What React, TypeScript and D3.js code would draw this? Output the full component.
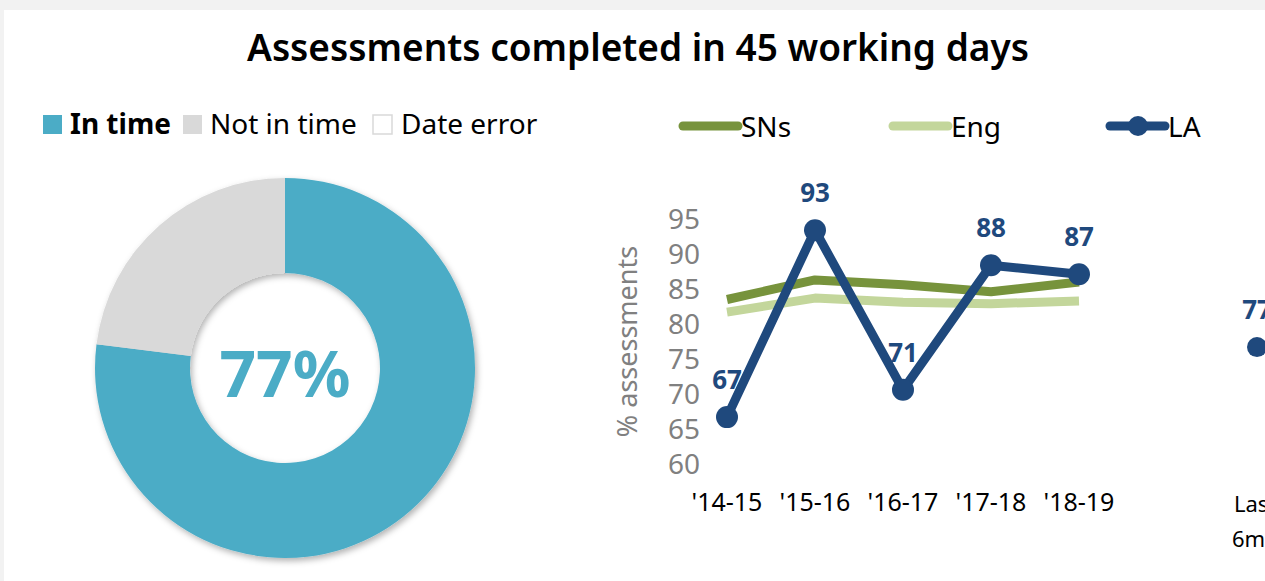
import React from 'react';
import * as d3 from 'd3';

// donut data
const statusLabels = ['In time', 'Not in time', 'Date error'];
const statusValues = [77, 23, 0];
const statusColors = ['#4BACC6', '#D9D9D9', '#FFFFFF'];

// trend data
const years = ["'14-15", "'15-16", "'16-17", "'17-18", "'18-19"];
const snsValues = [83.5, 86.3, 85.6, 84.6, 86.0];
const engValues = [81.7, 83.7, 83.1, 82.9, 83.3];
const laValues = [66.7, 93.4, 70.6, 88.4, 87.1];
const yTicks = [60, 65, 70, 75, 80, 85, 90, 95];

// cut-off panel on the right
const lastValue = 76.7;
const lastLabel = ['Last', '6mths'];

const W = 1265;
const H = 581;
const font = '"Noto Sans", "Open Sans", sans-serif';

export default function App() {
  const cx = 285;
  const cy = 368;
  const outerR = 190;
  const innerR = 95;

  const pie = d3.pie<number>().sort(null).value(d => d);
  const arcs = pie(statusValues);
  const arcGen = d3.arc<d3.PieArcDatum<number>>().innerRadius(innerR).outerRadius(outerR);

  const x = d3.scalePoint<string>().domain(years).range([727, 1079]);
  const y = d3.scaleLinear().domain([60, 95]).range([464, 219]);

  const lineGen = d3
    .line<number>()
    .x((_, i) => x(years[i]) as number)
    .y(d => y(d));

  const fmt = d3.format('.0f');

  const legendLeft = [
    { sq: 43, tx: 70 },
    { sq: 183, tx: 210 },
    { sq: 373, tx: 401 }
  ];

  const lineLegend = [
    { name: 'SNs', color: '#77933C', x0: 683, marker: false },
    { name: 'Eng', color: '#C3D69B', x0: 893, marker: false },
    { name: 'LA', color: '#1F497D', x0: 1110, marker: true }
  ];

  return (
    <svg
      width={W}
      height={H}
      style={{ position: 'absolute', left: 0, top: 0, fontFamily: font }}
    >
      <defs>
        <filter id="shadow" x="-20%" y="-20%" width="140%" height="140%">
          <feDropShadow dx="2" dy="3" stdDeviation="3" floodColor="#000" floodOpacity="0.3" />
        </filter>
      </defs>
      <rect width={W} height={H} fill="#F2F2F2" />
      <rect x={4} y={10} width={W - 4} height={H - 10} fill="#FFFFFF" />

      <text x={638} y={61} textAnchor="middle" fontSize={37} fontWeight={600} fill="#000">
        Assessments completed in 45 working days
      </text>

      {/* donut legend */}
      {statusLabels.map((lab, i) => (
        <g key={lab}>
          <rect
            x={legendLeft[i].sq}
            y={115}
            width={19}
            height={19}
            fill={statusColors[i]}
            stroke={i === 2 ? '#D9D9D9' : 'none'}
            strokeWidth={1.5}
          />
          <text
            x={legendLeft[i].tx}
            y={134}
            fontSize={28}
            fontWeight={i === 0 ? 700 : 400}
            fill="#000"
          >
            {lab}
          </text>
        </g>
      ))}

      {/* donut */}
      <g transform={`translate(${cx},${cy})`} filter="url(#shadow)">
        {arcs.map((a, i) => (
          <path key={i} d={arcGen(a) || ''} fill={statusColors[i]} />
        ))}
      </g>
      <text
        x={cx}
        y={cy + 29}
        textAnchor="middle"
        fontSize={64}
        fontWeight={700}
        fill="#4BACC6"
      >
        {statusValues[0]}%
      </text>

      {/* line legend */}
      {lineLegend.map(l => (
        <g key={l.name}>
          <line
            x1={l.x0}
            x2={l.x0 + 55}
            y1={126}
            y2={126}
            stroke={l.color}
            strokeWidth={9}
            strokeLinecap="round"
          />
          {l.marker && <circle cx={l.x0 + 28} cy={126} r={10} fill={l.color} />}
          <text x={l.x0 + 58} y={137} fontSize={28} fill="#000">
            {l.name}
          </text>
        </g>
      ))}

      {/* y axis */}
      {yTicks.map(t => (
        <text
          key={t}
          x={700}
          y={y(t)}
          dy="0.35em"
          textAnchor="end"
          fontSize={28}
          fill="#808080"
        >
          {t}
        </text>
      ))}
      <text
        transform={`translate(637,${(y(60) + y(95)) / 2}) rotate(-90)`}
        textAnchor="middle"
        fontSize={27}
        fill="#808080"
      >
        % assessments
      </text>

      {/* x labels */}
      {years.map(yr => (
        <text key={yr} x={x(yr)} y={511} textAnchor="middle" fontSize={25} fill="#000">
          {yr}
        </text>
      ))}

      {/* series */}
      <path d={lineGen(engValues) || ''} fill="none" stroke="#C3D69B" strokeWidth={9} strokeLinejoin="round" />
      <path d={lineGen(snsValues) || ''} fill="none" stroke="#77933C" strokeWidth={9} strokeLinejoin="round" />
      <path d={lineGen(laValues) || ''} fill="none" stroke="#1F497D" strokeWidth={9} strokeLinejoin="round" />
      {laValues.map((v, i) => (
        <g key={i}>
          <circle cx={x(years[i])} cy={y(v)} r={11} fill="#1F497D" />
          <text
            x={x(years[i])}
            y={y(v) - 28}
            textAnchor="middle"
            fontSize={26}
            fontWeight={700}
            fill="#1F497D"
          >
            {fmt(v)}
          </text>
        </g>
      ))}

      {/* partial third panel */}
      <circle cx={1257} cy={y(lastValue)} r={10} fill="#1F497D" />
      <text x={1257} y={y(lastValue) - 28} textAnchor="middle" fontSize={26} fontWeight={700} fill="#1F497D">
        {fmt(lastValue)}
      </text>
      <text x={1234} y={512} fontSize={22} fill="#000">
        {lastLabel[0]}
      </text>
      <text x={1232} y={547} fontSize={22} fill="#000">
        {lastLabel[1]}
      </text>
    </svg>
  );
}
